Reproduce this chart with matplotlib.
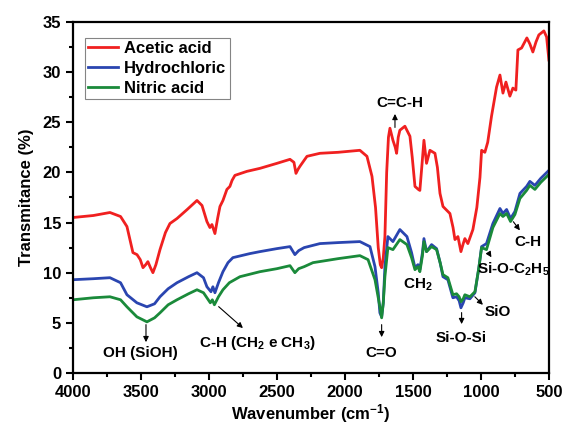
import matplotlib
matplotlib.use("Agg")
import matplotlib.pyplot as plt
from matplotlib.ticker import MultipleLocator

plt.rcParams['font.family'] = ['Liberation Sans', 'DejaVu Sans']
plt.rcParams['font.weight'] = 'bold'
plt.rcParams['mathtext.fontset'] = 'custom'
plt.rcParams['mathtext.rm'] = 'Liberation Sans:bold'
plt.rcParams['mathtext.bf'] = 'Liberation Sans:bold'
plt.rcParams['mathtext.default'] = 'rm'

# --- data ---
acetic_x = [4000, 3850, 3728, 3650, 3603, 3559, 3529, 3505, 3485, 3465, 3449, 3430, 3412, 3390, 3360,
            3320, 3287, 3235, 3160, 3088, 3051, 3015, 2993, 2978, 2956, 2935, 2919, 2897, 2868, 2846,
            2830, 2809, 2721, 2625, 2500, 2404, 2375, 2360, 2345, 2331, 2300, 2279, 2184, 2050, 1890,
            1838, 1801, 1775, 1755, 1740, 1730, 1718, 1706, 1693, 1680, 1669, 1647, 1630, 1620, 1608,
            1596, 1559, 1522, 1505, 1485, 1460, 1449, 1435, 1419, 1400, 1375, 1338, 1320, 1301, 1279,
            1250, 1228, 1205, 1191, 1169, 1147, 1130, 1118, 1096, 1059, 1030, 1007, 995, 971, 950,
            922, 885, 860, 838, 816, 787, 765, 743, 728, 701, 662, 640, 618, 595, 574, 537, 517, 500]
acetic_y = [15.5, 15.7, 16.0, 15.6, 14.6, 12.0, 11.8, 11.3, 10.5, 10.8, 11.1, 10.5, 10.0, 10.8, 12.3,
            14.0, 14.9, 15.4, 16.3, 17.2, 16.7, 15.1, 14.5, 14.8, 13.9, 15.5, 16.6, 17.2, 18.3, 18.6,
            19.2, 19.7, 20.1, 20.4, 20.9, 21.3, 21.0, 19.9, 20.3, 20.6, 21.2, 21.6, 21.9, 22.0, 22.2,
            21.6, 19.6, 16.5, 12.5, 10.8, 10.5, 11.5, 13.6, 20.0, 23.5, 24.4, 23.2, 22.5, 21.9, 23.5,
            24.2, 24.6, 23.6, 21.5, 18.6, 18.3, 18.2, 20.5, 23.2, 20.9, 22.2, 21.9, 20.5, 17.9, 16.6,
            16.2, 15.9, 14.5, 13.3, 13.6, 12.1, 12.9, 13.4, 12.9, 14.3, 16.5, 19.5, 22.2, 22.0, 23.0,
            25.6, 28.5, 29.7, 27.9, 29.0, 27.6, 28.4, 28.2, 32.2, 32.4, 33.4, 32.8, 32.0, 33.0, 33.7,
            34.1, 33.5, 31.2]

hcl_x = [4000, 3850, 3728, 3650, 3603, 3530, 3456, 3400, 3360, 3300, 3235, 3150, 3088, 3040, 3015,
         2985, 2971, 2956, 2930, 2897, 2860, 2824, 2700, 2625, 2500, 2404, 2368, 2340, 2300, 2184,
         2050, 1890, 1816, 1779, 1755, 1743, 1730, 1718, 1706, 1684, 1647, 1596, 1544, 1510, 1485,
         1463, 1449, 1430, 1419, 1400, 1363, 1326, 1300, 1279, 1243, 1206, 1179, 1160, 1147, 1130,
         1118, 1081, 1044, 1015, 995, 959, 912, 860, 838, 811, 782, 750, 713, 664, 640, 603, 560, 500]
hcl_y = [9.3, 9.4, 9.5, 9.0, 7.8, 7.0, 6.6, 6.9, 7.6, 8.4, 9.0, 9.6, 10.0, 9.5, 8.6,
         8.1, 8.6, 8.0, 9.0, 10.1, 11.0, 11.5, 11.9, 12.1, 12.4, 12.6, 11.8, 12.2, 12.5, 12.9,
         13.0, 13.1, 12.6, 10.6, 8.0, 6.0, 5.6, 7.0, 10.6, 13.6, 13.1, 14.3, 13.6, 12.0, 10.5,
         10.8, 10.3, 12.0, 13.4, 12.1, 12.8, 12.4, 11.0, 9.6, 9.3, 7.5, 7.6, 7.2, 6.5, 7.0,
         7.5, 7.4, 8.0, 10.5, 12.6, 12.9, 14.9, 16.4, 15.9, 16.3, 15.4, 16.1, 17.9, 18.6, 19.1, 18.7, 19.4, 20.2]

nitric_x = [4000, 3850, 3728, 3650, 3603, 3530, 3456, 3400, 3360, 3300, 3235, 3150, 3088, 3040, 3015,
            2990, 2975, 2960, 2930, 2897, 2850, 2772, 2625, 2500, 2404, 2368, 2340, 2300, 2235, 2050,
            1890, 1830, 1779, 1755, 1743, 1730, 1718, 1706, 1684, 1647, 1596, 1544, 1510, 1485, 1463,
            1449, 1430, 1419, 1400, 1363, 1326, 1300, 1279, 1243, 1206, 1179, 1160, 1147, 1130, 1118,
            1081, 1044, 1015, 995, 959, 912, 860, 838, 811, 782, 750, 713, 664, 640, 603, 560, 500]
nitric_y = [7.3, 7.5, 7.6, 7.3, 6.6, 5.6, 5.1, 5.5, 6.0, 6.8, 7.3, 7.9, 8.3, 8.0, 7.5,
            7.0, 7.3, 6.8, 7.6, 8.3, 9.0, 9.6, 10.1, 10.4, 10.7, 10.0, 10.4, 10.6, 11.0, 11.4,
            11.7, 11.3, 9.3, 7.5, 6.6, 5.5, 7.0, 9.6, 12.5, 12.3, 13.3, 12.8, 11.5, 10.3, 10.6,
            10.1, 11.7, 13.1, 12.1, 12.6, 12.3, 11.0, 9.8, 9.5, 7.8, 7.9, 7.6, 7.1, 7.4, 7.8,
            7.6, 8.1, 10.5, 12.5, 12.3, 14.5, 15.9, 15.6, 15.9, 15.1, 15.8, 17.4, 18.2, 18.7, 18.3, 19.0, 19.8]

series_labels = ['Acetic acid', 'Hydrochloric', 'Nitric acid']
series_colors = ['#f02020', '#2a45b0', '#1a8a3a']

fig = plt.figure(figsize=(5.70, 4.29), dpi=100)
ax = fig.add_axes([0.128, 0.1305, 0.835, 0.8185])

for xs, ys, lab, col in zip([acetic_x, hcl_x, nitric_x], [acetic_y, hcl_y, nitric_y],
                            series_labels, series_colors):
    ax.plot(xs, ys, color=col, lw=2.0, label=lab, solid_joinstyle='round')

ax.set_xlim(4000, 500)
ax.set_ylim(0, 35)
ax.xaxis.set_major_locator(MultipleLocator(500))
ax.xaxis.set_minor_locator(MultipleLocator(250))
ax.yaxis.set_major_locator(MultipleLocator(5))
ax.yaxis.set_minor_locator(MultipleLocator(2.5))
ax.tick_params(which='major', direction='out', length=5, width=1.5, labelsize=12)
ax.tick_params(which='minor', direction='out', length=3, width=1.5)
for s in ax.spines.values():
    s.set_linewidth(1.6)

ax.set_xlabel('Wavenumber (cm$^{-1}$)', fontsize=12, fontweight='bold', labelpad=2)
ax.set_ylabel('Transmitance (%)', fontsize=12, fontweight='bold', labelpad=6)

leg = ax.legend(loc='upper left', bbox_to_anchor=(0.025, 0.955), fontsize=12, fancybox=False,
                edgecolor='#666666', handlelength=1.8, handletextpad=0.35, borderpad=0.2,
                labelspacing=0.3, borderaxespad=0)
leg.get_frame().set_linewidth(0.8)

ann_kw = dict(fontsize=11, fontweight='bold', ha='center', va='center')
arrow_kw = dict(arrowstyle='-|>', color='black', lw=0.8, mutation_scale=8)

def note(text, xy_from, xy_to, xy_text):
    ax.annotate('', xy=xy_to, xytext=xy_from, arrowprops=arrow_kw)
    ax.text(xy_text[0], xy_text[1], text, **ann_kw)

note('C=C-H', (1632, 24.2), (1632, 26.1), (1596, 26.9))
note('OH (SiOH)', (3463, 5.1), (3463, 2.8), (3507, 2.0))
note('C-H (CH$_2$ e CH$_3$)', (2944, 6.8), (2735, 4.3), (2647, 3.0))
note('C=O', (1730, 5.1), (1730, 3.3), (1730, 2.0))
ax.text(1463, 8.8, 'CH$_2$', **ann_kw)
note('Si-O-Si', (1142, 6.3), (1142, 4.6), (1142, 3.5))
note('SiO', (1059, 7.8), (971, 6.6), (875, 6.1))
note('Si-O-C$_2$H$_5$', (949, 12.1), (912, 11.3), (765, 10.3))
note('C-H', (774, 15.3), (701, 14.0), (654, 13.1))

fig.savefig('out.png', dpi=100)
